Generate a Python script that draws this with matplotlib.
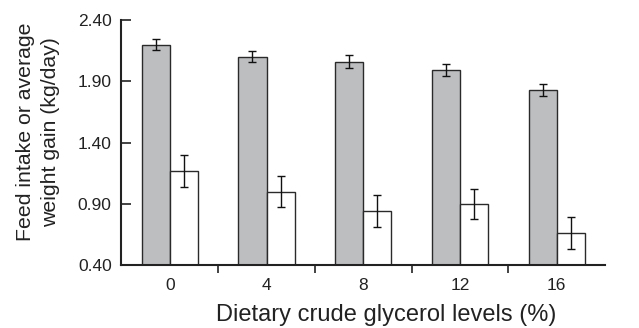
import numpy as np
import matplotlib.pyplot as plt

plt.rcParams['font.family'] = ['Liberation Sans', 'DejaVu Sans']

# Data
levels = ['0', '4', '8', '12', '16']
feed_intake = [2.20, 2.10, 2.06, 1.99, 1.83]
feed_err = [0.046, 0.046, 0.052, 0.048, 0.048]
weight_gain = [1.17, 1.00, 0.84, 0.90, 0.66]
gain_err = [0.13, 0.125, 0.13, 0.124, 0.128]
y_ticks = [0.40, 0.90, 1.40, 1.90, 2.40]

x = np.arange(len(levels))
w = 0.29

fig = plt.figure(figsize=(6.39, 3.28), dpi=100)
ax = fig.add_axes([0.190, 0.192, 0.757, 0.747])

ec = '#2a2a2a'
ax.bar(x - w / 2, feed_intake, w, bottom=0, color='#bdbec0', edgecolor=ec, linewidth=1.0)
ax.bar(x + w / 2, weight_gain, w, bottom=0, color='white', edgecolor=ec, linewidth=1.0)
ax.errorbar(x - w / 2, feed_intake, yerr=feed_err, fmt='none', ecolor='#111111',
            elinewidth=1.0, capsize=3, capthick=1.0)
ax.errorbar(x + w / 2, weight_gain, yerr=gain_err, fmt='none', ecolor='#111111',
            elinewidth=1.0, capsize=3, capthick=1.0)

ax.set_xlim(-0.5, 4.5)
ax.set_ylim(0.40, 2.40)
ax.set_yticks(y_ticks)
ax.set_yticklabels([f'{v:.2f}' for v in y_ticks])

# category labels at centers, tick marks between groups
ax.set_xticks(x)
ax.set_xticklabels(levels)
ax.tick_params(axis='x', length=0, labelsize=12.5, pad=9, colors='#222222')
ax.set_xticks(np.arange(0.5, 4.5, 1.0), minor=True)
ax.tick_params(axis='x', which='minor', length=6, width=1.2, direction='out', color='#222222')
ax.tick_params(axis='y', length=7, width=1.2, direction='in', labelsize=12.5, pad=7, colors='#222222')

for s in ['top', 'right']:
    ax.spines[s].set_visible(False)
for s in ['left', 'bottom']:
    ax.spines[s].set_linewidth(1.5)
    ax.spines[s].set_color('#222222')

fig.text(386 / 639, 1 - 315 / 328, 'Dietary crude glycerol levels (%)', fontsize=17,
         ha='center', va='center', color='#222222')
fig.text(38 / 639, 1 - 132 / 328, 'Feed intake or average\nweight gain (kg/day)', fontsize=15.3,
         ha='center', va='center', rotation=90, color='#222222', linespacing=1.35,
         multialignment='center')

fig.savefig('out.png', dpi=100)
